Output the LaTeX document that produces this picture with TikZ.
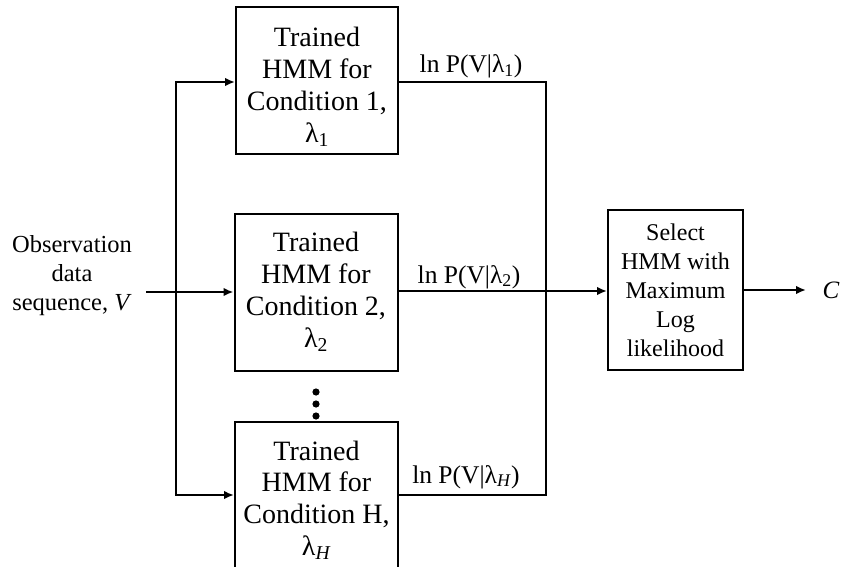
\documentclass[tikz,border=0pt]{standalone}
\usepackage{fontspec}
\setmainfont{Liberation Serif}
\usetikzlibrary{arrows.meta}
\tikzset{
  hmmbox/.style={draw, line width=2pt, rectangle, align=center, inner sep=0pt,
    font=\fontsize{28}{31.7}\selectfont},
  boxtext/.style={align=center, inner sep=0pt, font=\fontsize{28}{31.7}\selectfont},
  wire/.style={line width=2pt},
  arr/.style={line width=2pt, -{Latex[length=10pt,width=8.5pt]}},
  lbl/.style={anchor=base, inner sep=0pt, font=\fontsize{25.5}{28}\selectfont},
}
\begin{document}
\begin{tikzpicture}[x=1pt, y=-1pt]
\useasboundingbox (0,0) rectangle (843,567);

% condition models
\node[hmmbox, minimum width=162pt, minimum height=147pt] (m1) at (317,80.5) {};
\node[boxtext] (t1) at (317,87) {Trained\\HMM for\\Condition 1,\\λ\textsubscript{1}};
\node[hmmbox, minimum width=163pt, minimum height=157pt] (m2) at (316,292)
  {Trained\\HMM for\\Condition 2,\\λ\textsubscript{2}};
\node[hmmbox, minimum width=163pt, minimum height=156pt] (mH) at (316.5,500)
  {Trained\\HMM for\\Condition H,\\λ\textsubscript{\textit{H}}};

% decision block
\node[hmmbox, font=\fontsize{24}{29}\selectfont, minimum width=135pt, minimum height=160pt] (sel) at (675.5,290)
  {Select\\HMM with\\Maximum\\Log\\likelihood};

% input
\node[align=center, inner sep=0pt, font=\fontsize{24.5}{29}\selectfont] (obs) at (72,276)
  {Observation\\data\\sequence, \textit{V}};

% ellipsis between models
\fill (316,392) circle (3.6pt);
\fill (316,404) circle (3.6pt);
\fill (316,416) circle (3.6pt);

% routing points
\coordinate (src) at (146,292);
\coordinate (split) at (175.7,292);
\coordinate (yone) at (0,82);
\coordinate (ytwo) at (0,291);
\coordinate (yH) at (0,495);
\coordinate (join) at (546,291);
\coordinate (cend) at (806,290);

% fan-out of the observation sequence
\draw[arr] (src) -- (m2.west);
\draw[arr] (split) |- (m1.west |- yone);
\draw[arr] (split) |- (mH.west |- yH);

% log-likelihood outputs
\draw[wire] (m1.east |- yone) -| (join);
\draw[wire] (mH.east |- yH) -| (join);
\draw[arr] (m2.east |- ytwo) -- (sel.west |- ytwo);

\node[lbl] (l1) at (471,73) {ln P(V|λ\textsubscript{1})};
\node[lbl] (l2) at (469,283) {ln P(V|λ\textsubscript{2})};
\node[lbl] (lH) at (466,483) {ln P(V|λ\textsubscript{\textit{H}})};

% decision output
\draw[arr] (sel.east |- cend) -- (cend);
\node[inner sep=0pt, font=\fontsize{25}{30}\selectfont] (c) at (831,290) {\textit{C}};
\end{tikzpicture}
\end{document}
